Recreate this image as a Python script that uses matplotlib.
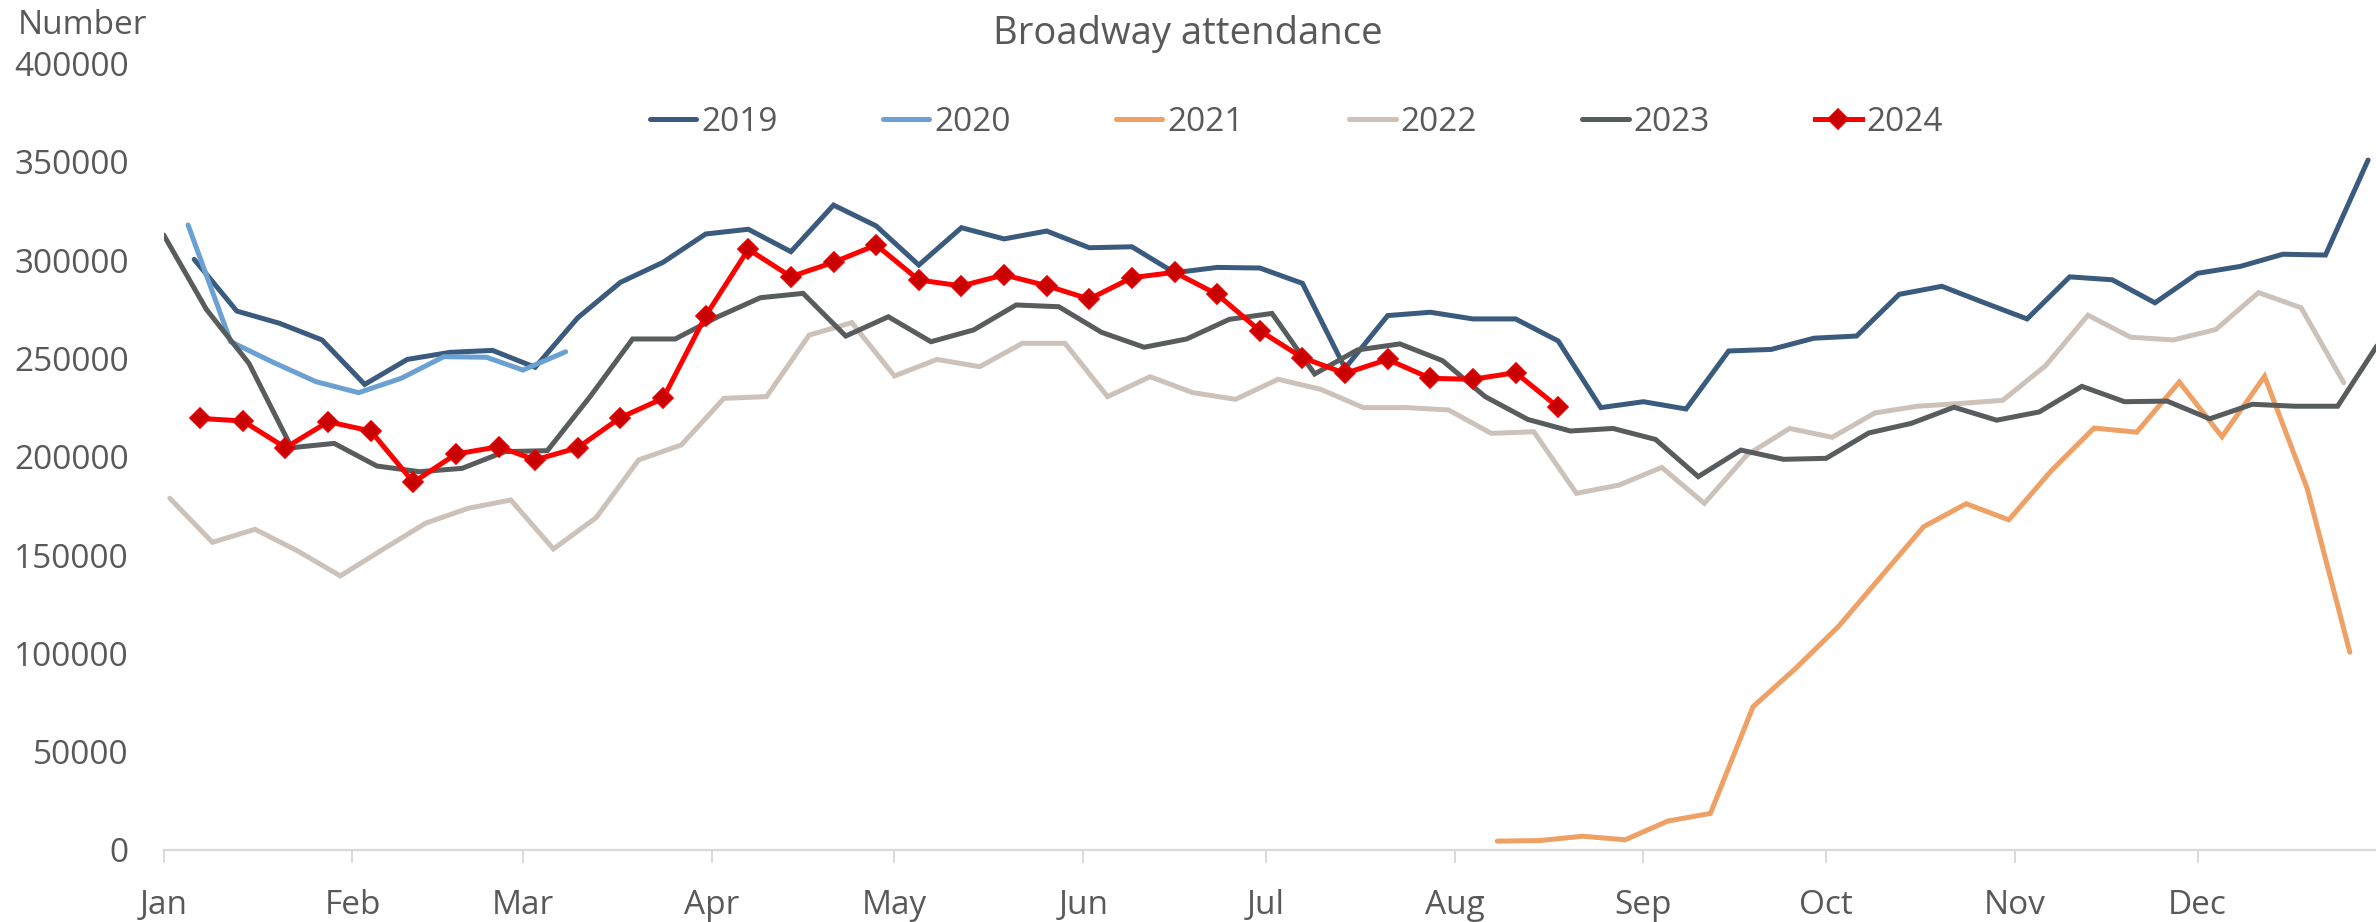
import matplotlib
matplotlib.use("Agg")
import matplotlib.pyplot as plt
import matplotlib.dates as mdates
import matplotlib.ticker as mticker
import pandas as pd

plt.rcParams['font.family'] = ['Open Sans', 'DejaVu Sans']

# ---- data (weekly attendance, week-ending Sundays) ----
start_2019 = '2019-01-06'
start_2020 = '2020-01-05'
start_2021 = '2021-08-08'
start_2022 = '2022-01-02'
start_2023 = '2023-01-01'
start_2024 = '2024-01-07'

y2019 = [300400, 274100, 267900, 259400, 236800, 249500, 253100, 254100, 245500, 270700,
         288700, 298900, 313300, 315700, 304300, 328000, 317400, 297500, 316500, 310800,
         314800, 306300, 306800, 293600, 296300, 296000, 288200, 245000, 271800, 273500,
         270100, 270100, 258900, 225000, 228000, 224300, 253800, 254600, 260300, 261400,
         282600, 286700, 278300, 270100, 291500, 290000, 278300, 293300, 296800, 303000,
         302600, 350900]
y2020 = [317900, 258500, 248000, 238200, 232600, 239900, 250900, 250600, 244100, 253400]
y2021 = [4500, 4800, 7000, 5200, 14700, 18600, 72900, 92400, 113600, 139000, 164400,
         176100, 167900, 193000, 214600, 212500, 238000, 210200, 240900, 183900, 100600]
y2022 = [178900, 156500, 163100, 152100, 139400, 152900, 166200, 173800, 178000, 153100,
         169000, 198400, 206000, 229700, 230600, 261900, 268200, 241100, 249500, 245800,
         257700, 257700, 230600, 240700, 232600, 229200, 239400, 234300, 225000, 225000,
         223800, 211900, 212700, 181400, 185600, 194600, 176300, 200900, 214400, 209900,
         222300, 225700, 227100, 228700, 246200, 272000, 260800, 259400, 264700, 283500,
         275800, 237700]
y2023 = [312800, 275000, 247500, 204600, 206800, 195300, 192400, 194100, 202600, 203100,
         230500, 259900, 259900, 271200, 280900, 283100, 261400, 271200, 258500, 264500,
         277200, 276300, 263300, 255700, 259900, 269900, 272900, 242100, 254300, 257400,
         248900, 230600, 219000, 213100, 214400, 208800, 189900, 203400, 198700, 199200,
         212100, 217000, 225200, 218600, 222800, 235800, 228000, 228300, 219300, 226700,
         225700, 225700, 259000]
y2024 = [219500, 218200, 204600, 217800, 213100, 187000, 201400, 205100, 198400, 204600,
         219900, 229700, 271700, 305500, 291600, 298900, 307700, 289900, 286900, 292500,
         287000, 280200, 291100, 293800, 282600, 264100, 250400, 242400, 249500, 239900,
         239400, 242800, 225200]

month_labels = ['Jan', 'Feb', 'Mar', 'Apr', 'May', 'Jun', 'Jul', 'Aug', 'Sep', 'Oct', 'Nov', 'Dec']
y_ticks = [0, 50000, 100000, 150000, 200000, 250000, 300000, 350000, 400000]


def on_common_year(start, n):
    """Week-ending dates, placed on a common (2019) calendar by month/day."""
    d = pd.date_range(start, periods=n, freq='7D')
    return [x.replace(year=2019) for x in d]


series = [
    ('2019', start_2019, y2019, '#3A5B7D', None),
    ('2020', start_2020, y2020, '#6AA0D2', None),
    ('2021', start_2021, y2021, '#EFA064', None),
    ('2022', start_2022, y2022, '#CCC2BA', None),
    ('2023', start_2023, y2023, '#585C5C', None),
    ('2024', start_2024, y2024, '#FF0000', 'D'),
]

fig = plt.figure(figsize=(23.76, 9.22), dpi=100)
ax = fig.add_axes([0.0689, 0.0781, 0.9311, 0.853])

text_color = '#595959'

for name, start, vals, col, mk in series:
    x = on_common_year(start, len(vals))
    if mk:
        ax.plot(x, vals, color=col, lw=3.6, marker=mk, markersize=10,
                markerfacecolor='#C80000', markeredgecolor='#E80000', markeredgewidth=1.2,
                label=name, solid_joinstyle='miter')
    else:
        ax.plot(x, vals, color=col, lw=3.6, label=name, solid_capstyle='round',
                solid_joinstyle='miter')

x0 = pd.Timestamp('2019-01-01')
ax.set_xlim(x0, x0 + pd.Timedelta(days=363.3))
ax.set_ylim(0, 400000)

month_starts = [pd.Timestamp(2019, m, 1) for m in range(1, 13)]
ax.set_xticks(month_starts)
ax.set_xticklabels(month_labels)
ax.set_yticks(y_ticks)
ax.yaxis.set_major_formatter(mticker.FuncFormatter(lambda v, p: f'{int(v)}'))

for s in ['top', 'right', 'left']:
    ax.spines[s].set_visible(False)
ax.spines['bottom'].set_color('#d9d9d9')
ax.spines['bottom'].set_linewidth(1.6)

ax.tick_params(axis='x', colors='#d9d9d9', length=9, width=1.4, pad=19,
               labelsize=24, labelcolor=text_color)
ax.tick_params(axis='y', length=0, pad=25, labelsize=24, labelcolor=text_color)

fig.text(0.5, 0.963, 'Broadway attendance', ha='center', va='center',
         fontsize=27.5, color=text_color)
fig.text(0.0075, 0.972, 'Number', ha='left', va='center', fontsize=24, color=text_color)

leg = ax.legend(loc='center', bbox_to_anchor=(0.512, 0.925), ncol=6, frameon=False,
                fontsize=24, handlelength=1.4, handletextpad=0.15, columnspacing=3.15,
                labelcolor=text_color)

fig.savefig('out.png', dpi=100)
